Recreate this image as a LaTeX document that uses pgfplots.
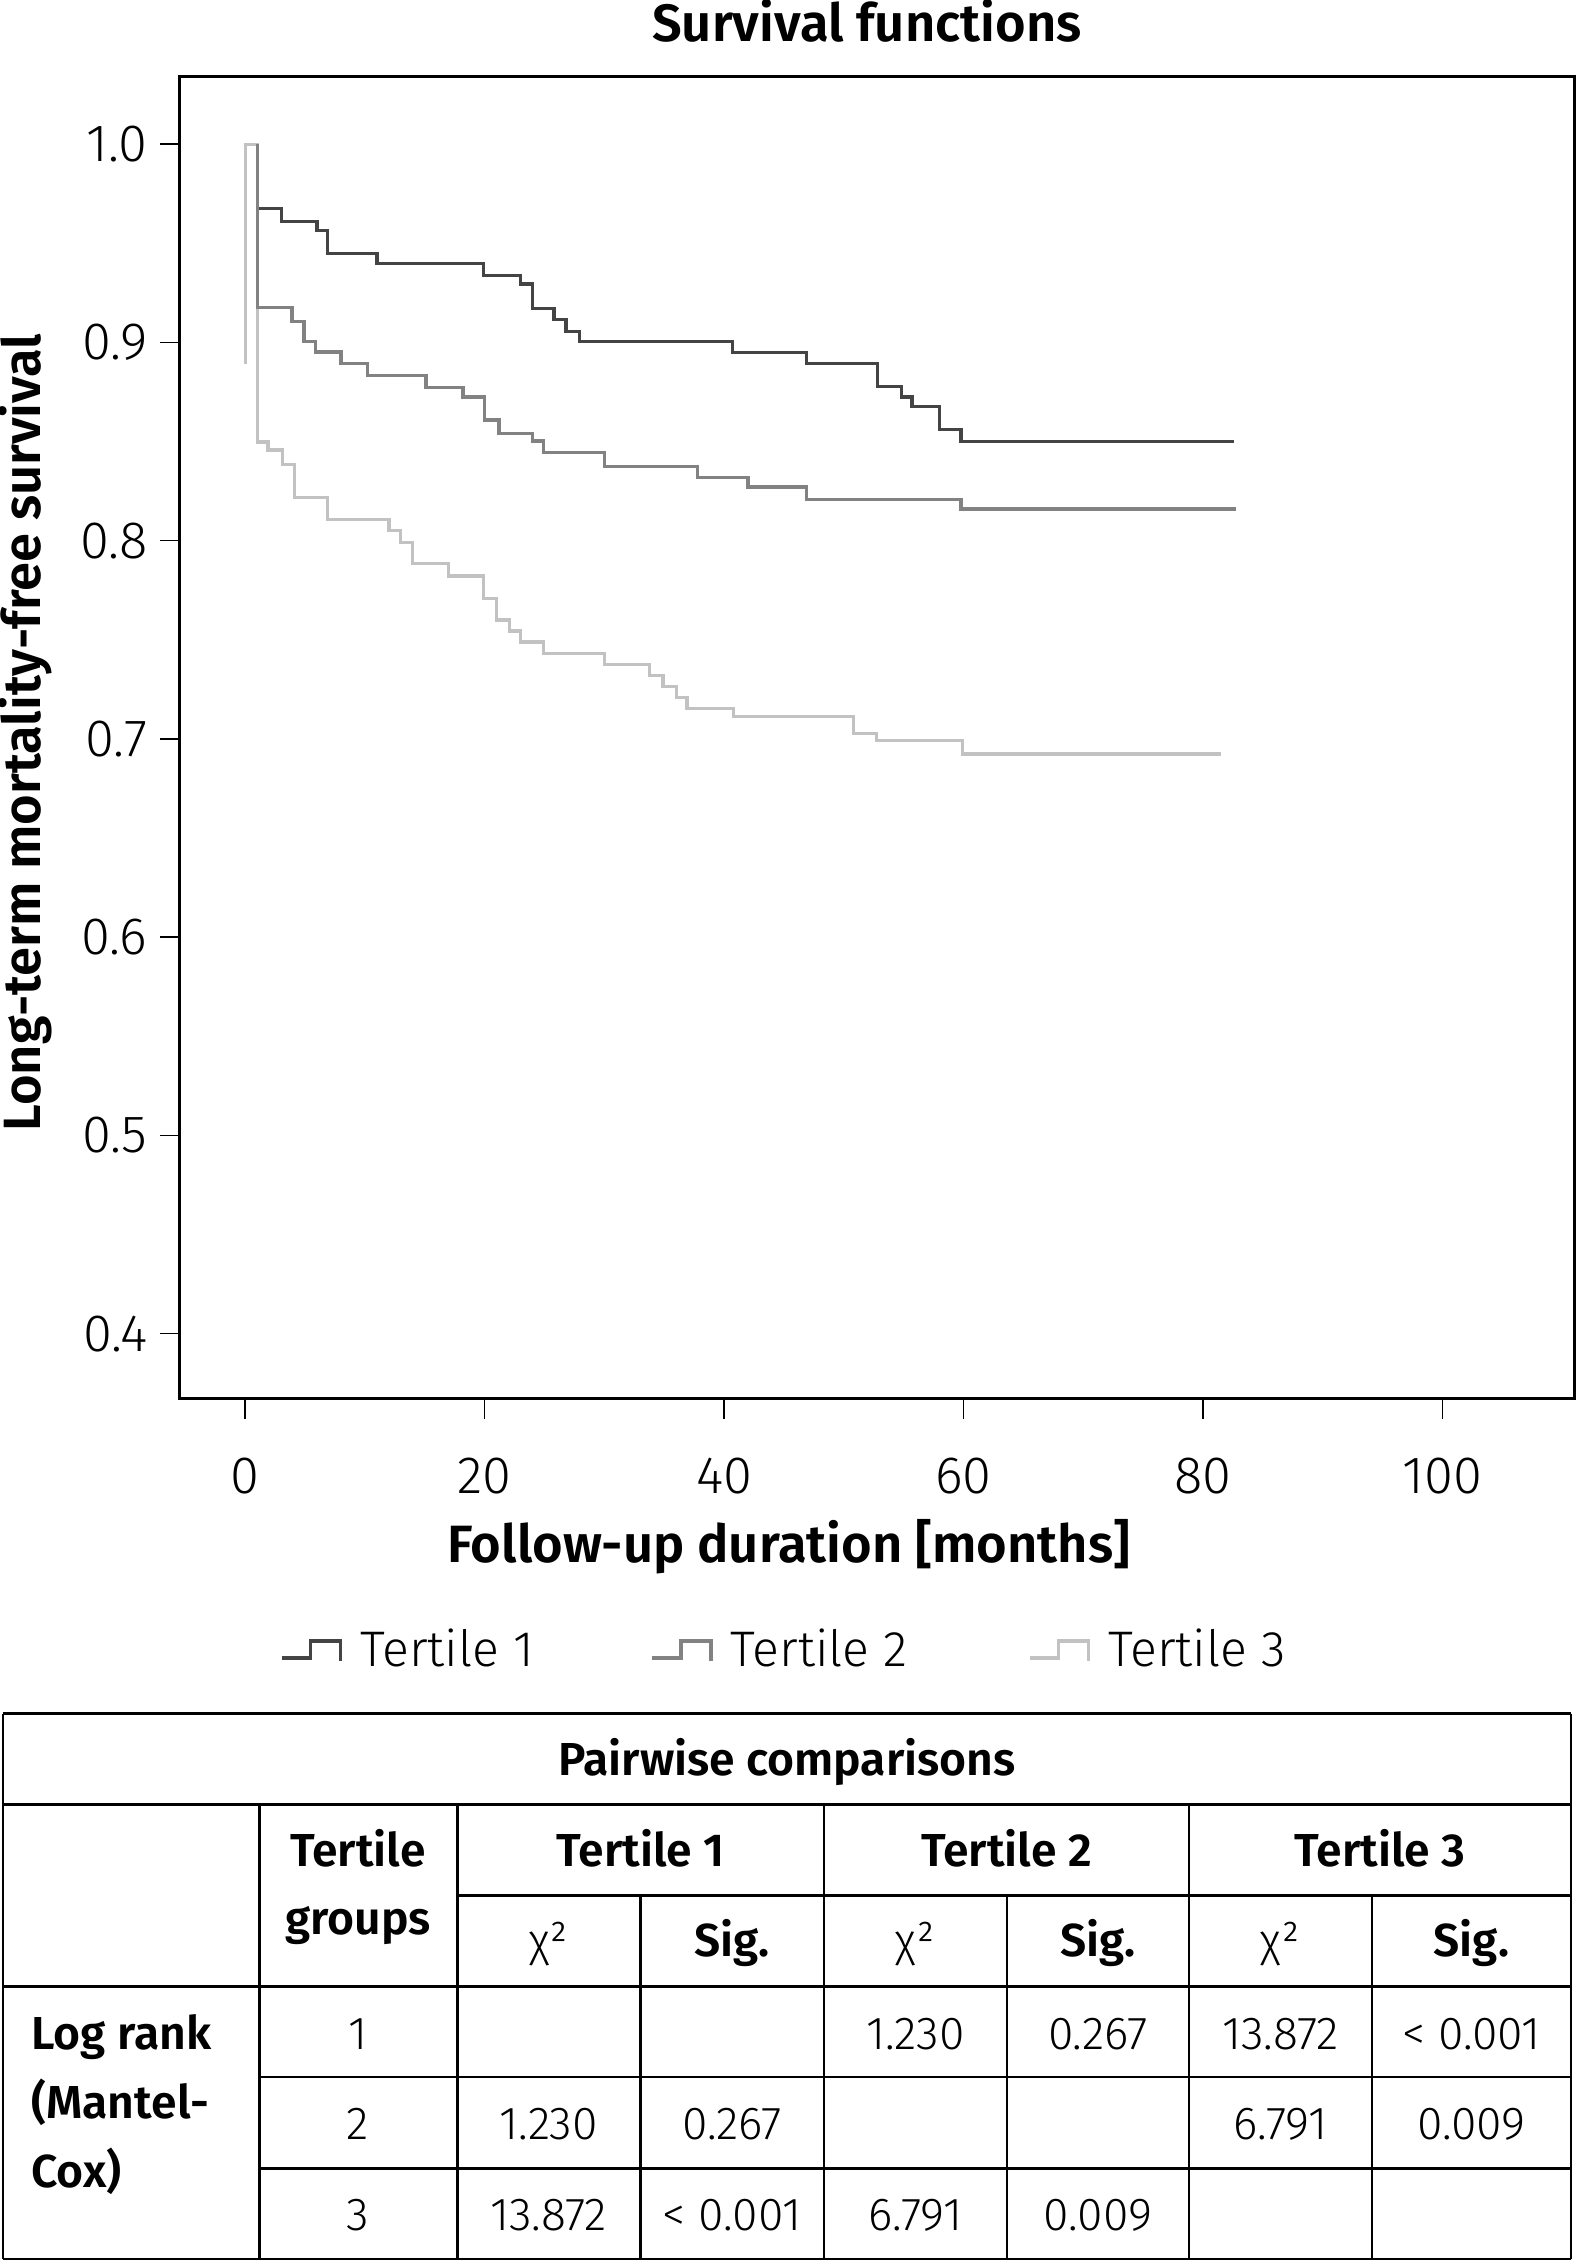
\documentclass[border=0pt]{standalone}
\usepackage{fontspec}
\setmainfont{Fira Sans}[UprightFont=* Light, BoldFont=* SemiBold]
\usepackage{pgfplots}
\pgfplotsset{compat=1.18}
\definecolor{tone}{HTML}{444444}
\definecolor{ttwo}{HTML}{828282}
\definecolor{tthree}{HTML}{C2C2C2}
\newcommand\chartfont{\fontsize{21}{25}\selectfont}
\newcommand\legfont{\fontsize{20}{24}\selectfont}
\newcommand\tabfont{\fontsize{18.5}{22}\selectfont}
\begin{document}
\begin{tikzpicture}
\useasboundingbox (0,0) rectangle (630.4pt,904.8pt);
\begin{axis}[
  at={(72pt,345.2pt)}, anchor=south west,
  scale only axis, width=557.6pt, height=528.9pt,
  xmin=-5.45, xmax=111, ymin=0.367, ymax=1.034,
  axis line style={line width=1.2pt, black},
  xtick={0,20,40,60,80,100},
  ytick={0.4,0.5,0.6,0.7,0.8,0.9,1.0},
  xtick pos=bottom, ytick pos=left, tick align=outside,
  major tick length=8pt,
  every tick/.style={black, line width=0.6pt},
  /pgf/number format/assume math mode=true,
  tick label style={font=\chartfont},
  yticklabel style={/pgf/number format/fixed, /pgf/number format/fixed zerofill, /pgf/number format/precision=1, xshift=-1.5pt},
  xticklabel style={yshift=-12pt},
  title={\bfseries Survival functions},
  title style={font=\chartfont, at={(axis description cs:0.4928,1.0278)}, anchor=base, yshift=-6.8pt},
  xlabel={\bfseries Follow-up duration [months]},
  xlabel style={font=\chartfont, at={(axis description cs:0.4367,-0.124)}, anchor=base},
  ylabel={\bfseries Long-term mortality-free survival},
  ylabel style={font=\chartfont, at={(axis description cs:-0.1004,0.504)}, anchor=base},
  legend columns=3, legend cell align=left,
  legend style={draw=none, fill=none, inner sep=0pt, font=\legfont,
    at={(axis description cs:0.0715,-0.1898)}, anchor=west,
    nodes={inner sep=0pt},
    /tikz/every odd column/.append style={column sep=7.2pt}},
  legend image code/.code={\draw[#1] (0pt,-3.2pt) -- (11.6pt,-3.2pt) -- (11.6pt,3.6pt) -- (23.6pt,3.6pt) -- (23.6pt,-4.4pt);},
  line join=miter,
]
\addlegendimage{tone, line width=1.3pt}
\addlegendentry{\makebox[116pt][l]{Tertile 1}}
\addlegendimage{ttwo, line width=1.3pt}
\addlegendentry{\makebox[119pt][l]{Tertile 2}}
\addlegendimage{tthree, line width=1.3pt}
\addlegendentry{\makebox[118pt][l]{Tertile 3}}

% Tertile 3
\addplot[const plot, tthree, line width=1.3pt, forget plot] coordinates {
(0,0.889) (0,1.0) (1.0,0.8498) (1.9,0.8457) (3.1,0.8384) (4.1,0.8218)
(6.9,0.8108) (12.0,0.8050) (13.0,0.7991) (14.0,0.7885) (17.0,0.7821)
(19.9,0.7708) (21.0,0.7599) (22.1,0.7544) (23.0,0.7488) (24.9,0.7431)
(30.0,0.7375) (33.8,0.7318) (34.9,0.7263) (36.0,0.7209) (36.9,0.7152)
(40.8,0.7111) (50.8,0.7027) (52.75,0.6990) (59.9,0.6923) (81.5,0.6923)
};
% Tertile 1
\addplot[const plot, tone, line width=1.3pt, forget plot] coordinates {
(1.0,1.0) (1.0,0.9676) (3.0,0.9608) (6.0,0.9563) (6.9,0.9449) (11.0,0.9398)
(19.9,0.9339) (23.0,0.9294) (24.0,0.9171) (25.8,0.9116) (26.8,0.9053)
(27.9,0.9003) (40.7,0.8949) (46.9,0.8892) (52.8,0.8779) (54.8,0.8725)
(55.7,0.8675) (58.0,0.8561) (59.8,0.8500) (82.6,0.8500)
};
% Tertile 2
\addplot[const plot, ttwo, line width=1.3pt, forget plot] coordinates {
(1.0,1.0) (1.0,0.9176) (3.9,0.9104) (4.9,0.9003) (5.9,0.8952) (8.0,0.8894)
(10.2,0.8831) (15.1,0.8771) (18.2,0.8725) (20.0,0.8608) (21.2,0.8541)
(24.0,0.8503) (24.9,0.8445) (30.0,0.8372) (37.8,0.8319) (42.0,0.8271)
(46.9,0.8208) (59.8,0.8159) (82.8,0.8159)
};
\end{axis}

\begin{scope}[shift={(0pt,904.8pt)}, x=0.4pt, y=-0.4pt, line width=1.1pt]
% horizontal rules
\draw (3,1713.6) -- (1571,1713.6);
\draw (3,1804.7) -- (1571,1804.7);
\draw (457.3,1895.3) -- (1571,1895.3);
\draw (3,1986.7) -- (1571,1986.7);
\draw (259.3,2077) -- (1571,2077);
\draw (259.3,2168.8) -- (1571,2168.8);
\draw (3,2259) -- (1571,2259);
% vertical rules
\draw (3,1713.6) -- (3,2259);
\draw (1571,1713.6) -- (1571,2259);
\draw (259.3,1804.7) -- (259.3,2259);
\draw (457.3,1804.7) -- (457.3,2259);
\draw (824.1,1804.7) -- (824.1,2259);
\draw (1189,1804.7) -- (1189,2259);
\draw (640.2,1895.3) -- (640.2,2259);
\draw (1007,1895.3) -- (1007,2259);
\draw (1372,1895.3) -- (1372,2259);
% header texts
\node[font=\tabfont\bfseries, anchor=base, inner sep=0pt] at (787,1776) {Pairwise comparisons};
\node[font=\tabfont\bfseries, anchor=base, inner sep=0pt] at (358,1866.7) {Tertile};
\node[font=\tabfont\bfseries, anchor=base, inner sep=0pt] at (358,1935) {groups};
\node[font=\tabfont\bfseries, anchor=base, inner sep=0pt] at (640.6,1866.7) {Tertile 1};
\node[font=\tabfont\bfseries, anchor=base, inner sep=0pt] at (1006.5,1866.7) {Tertile 2};
\node[font=\tabfont\bfseries, anchor=base, inner sep=0pt] at (1380,1866.7) {Tertile 3};
\foreach \cx in {548.6,915.5,1280.5} {
  \node[font=\tabfont, anchor=base, inner sep=0pt] at (\cx,1957) {χ²};
}
\foreach \cx in {732,1098,1471.5} {
  \node[font=\tabfont\bfseries, anchor=base, inner sep=0pt] at (\cx,1957) {Sig.};
}
% row labels
\node[font=\tabfont\bfseries, anchor=base west, inner sep=0pt] at (30,2049.5) {Log rank};
\node[font=\tabfont\bfseries, anchor=base west, inner sep=0pt] at (30,2119) {(Mantel-};
\node[font=\tabfont\bfseries, anchor=base west, inner sep=0pt] at (30,2188) {Cox)};
% data
\node[font=\tabfont, anchor=base, inner sep=0pt] at (358,2049.5) {1};
\node[font=\tabfont, anchor=base, inner sep=0pt] at (358,2140) {2};
\node[font=\tabfont, anchor=base, inner sep=0pt] at (358,2230.5) {3};
\node[font=\tabfont, anchor=base, inner sep=0pt] at (915.5,2049.5) {1.230};
\node[font=\tabfont, anchor=base, inner sep=0pt] at (1098,2049.5) {0.267};
\node[font=\tabfont, anchor=base, inner sep=0pt] at (1280.5,2049.5) {13.872};
\node[font=\tabfont, anchor=base, inner sep=0pt] at (1471.5,2049.5) {< 0.001};
\node[font=\tabfont, anchor=base, inner sep=0pt] at (548.6,2140) {1.230};
\node[font=\tabfont, anchor=base, inner sep=0pt] at (732,2140) {0.267};
\node[font=\tabfont, anchor=base, inner sep=0pt] at (1280.5,2140) {6.791};
\node[font=\tabfont, anchor=base, inner sep=0pt] at (1471.5,2140) {0.009};
\node[font=\tabfont, anchor=base, inner sep=0pt] at (548.6,2230.5) {13.872};
\node[font=\tabfont, anchor=base, inner sep=0pt] at (732,2230.5) {< 0.001};
\node[font=\tabfont, anchor=base, inner sep=0pt] at (915.5,2230.5) {6.791};
\node[font=\tabfont, anchor=base, inner sep=0pt] at (1098,2230.5) {0.009};
\end{scope}
\end{tikzpicture}
\end{document}
